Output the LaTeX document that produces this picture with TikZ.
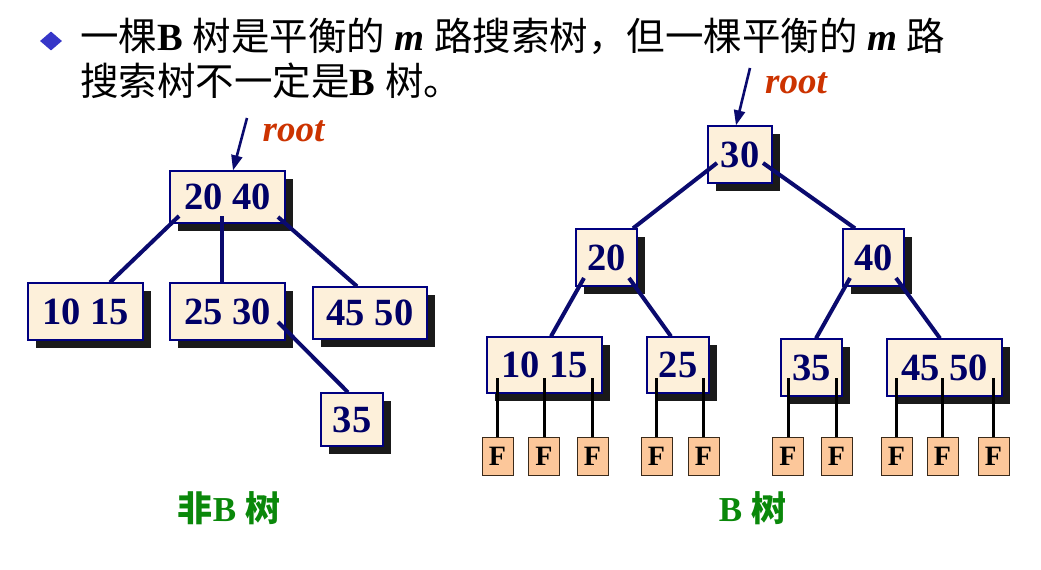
\documentclass[tikz,border=0pt]{standalone}
\usepackage{fontspec}
\setmainfont{Liberation Serif}
\newfontfamily\cjk{Noto Sans CJK SC}
\usetikzlibrary{shapes.geometric,shadows,calc,arrows.meta}
\definecolor{numblue}{HTML}{000066}
\definecolor{boxline}{HTML}{000080}
\definecolor{edgeblue}{HTML}{0A0A6E}
\definecolor{cream}{HTML}{FDF0DA}
\definecolor{shade}{HTML}{1A1A1A}
\definecolor{peach}{HTML}{FCC79A}
\definecolor{leafline}{HTML}{3A2A1A}
\definecolor{rootred}{HTML}{CC3300}
\definecolor{capgreen}{HTML}{0A880A}
\definecolor{bulletblue}{HTML}{3636C8}
\tikzset{
  keybox/.style={draw=boxline, line width=1.3pt, fill=cream, inner sep=0pt,
    text=numblue, font=\fontsize{38.5}{38}\selectfont\bfseries,
    general shadow={fill=shade, shadow xshift=8pt, shadow yshift=-8pt}},
  leafbox/.style={draw=leafline, line width=1pt, fill=peach, minimum width=31pt,
    minimum height=38pt, inner sep=0pt, font=\fontsize{28}{28}\selectfont\bfseries},
  edge/.style={draw=edgeblue, line width=4pt},
  leafedge/.style={draw=black, line width=3pt},
  rootarrow/.style={draw=edgeblue, line width=2.6pt, -{Triangle[length=15pt,width=11pt]}},
  rootlbl/.style={text=rootred, font=\fontsize{37}{37}\selectfont\bfseries\itshape, inner sep=0pt},
  caption/.style={text=capgreen, font=\fontsize{35}{35}\selectfont\bfseries, inner sep=0pt},
  titletext/.style={font=\fontsize{38.5}{40}\selectfont, inner sep=0pt, anchor=base west},
  bulletmark/.style={diamond, fill=bulletblue, minimum width=22pt, minimum height=19pt, inner sep=0pt}
}
\begin{document}
\begin{tikzpicture}[x=1pt,y=-1pt]
\useasboundingbox[fill=white] (0,0) rectangle (1041,570);

% title
\node[bulletmark] (bul) at (51,41) {};
\node[titletext] (t1) at (80,50.4) {{\cjk 一棵}\textbf{B} {\cjk 树是平衡的} \textbf{\textit{m}} {\cjk 路搜索树，但一棵平衡的} \textbf{\textit{m}} {\cjk 路}};
\node[titletext] (t2) at (80,95.5) {{\cjk 搜索树不一定是}\textbf{B} {\cjk 树。}};

% left tree (not a B-tree)
\node[keybox, minimum width=115pt, minimum height=52pt] (L2040) at (227.5,197) {20 40};
\node[keybox, minimum width=115pt, minimum height=57pt] (L1015) at (85.5,311.5) {10 15};
\node[keybox, minimum width=115pt, minimum height=57pt] (L2530) at (227.5,311.5) {25 30};
\node[keybox, minimum width=114pt, minimum height=52pt] (L4550) at (370,313) {45 50};
\node[keybox, minimum width=62pt, minimum height=53pt] (L35) at (352,419.5) {35};

\draw[edge] ([xshift=-48.5pt,yshift=-19pt]L2040.center) -- ([xshift=24.5pt]L1015.north);
\draw[edge] ([xshift=-5.5pt,yshift=-19pt]L2040.center) -- ([xshift=-5.5pt]L2530.north);
\draw[edge] ([xshift=50.5pt,yshift=-20pt]L2040.center) -- ([xshift=-13pt]L4550.north);
\draw[edge] ([xshift=50.5pt,yshift=-10.5pt]L2530.center) -- ([xshift=-4pt]L35.north);

\node[rootlbl] (rootL) at (293.5,131) {root};
\coordinate (aL) at (247,118);
\draw[rootarrow] (aL) -- ([xshift=5.5pt]L2040.north);

% right tree (B-tree)
\node[keybox, minimum width=64pt, minimum height=57pt] (R30) at (740,154.5) {30};
\node[keybox, minimum width=61pt, minimum height=57pt] (R20) at (606.5,257.5) {20};
\node[keybox, minimum width=61pt, minimum height=57pt] (R40) at (873.5,257.5) {40};
\node[keybox, minimum width=115pt, minimum height=56pt] (R1015) at (544.5,365) {10 15};
\node[keybox, minimum width=62pt, minimum height=56pt] (R25) at (678,365) {25};
\node[keybox, minimum width=61pt, minimum height=57pt] (R35) at (811.5,367.5) {35};
\node[keybox, minimum width=115pt, minimum height=57pt] (R4550) at (944.5,367.5) {45 50};

\foreach \n/\x in {f1/497.5, f2/544, f3/592.5, f4/656.5, f5/703.5,
                   f6/788, f7/836.5, f8/896.5, f9/942.5, f10/993.5}
  \node[leafbox] (\n) at (\x,456) {F};

\draw[edge] ([xshift=-23pt,yshift=-8.5pt]R30.center) -- ([xshift=26.5pt]R20.north);
\draw[edge] ([xshift=23pt,yshift=-8.5pt]R30.center) -- ([xshift=-18.5pt]R40.north);
\draw[edge] ([xshift=-22.5pt,yshift=-20.5pt]R20.center) -- ([xshift=6.5pt]R1015.north);
\draw[edge] ([xshift=22.5pt,yshift=-20.5pt]R20.center) -- ([xshift=-7pt]R25.north);
\draw[edge] ([xshift=-23.5pt,yshift=-20.5pt]R40.center) -- ([xshift=4.5pt]R35.north);
\draw[edge] ([xshift=22.5pt,yshift=-20.5pt]R40.center) -- ([xshift=-4.5pt]R4550.north);

\foreach \f/\p/\d in {f1/R1015/13, f2/R1015/13, f3/R1015/13, f4/R25/13, f5/R25/13,
                      f6/R35/10.5, f7/R35/10.5, f8/R4550/10.5, f9/R4550/10.5, f10/R4550/10.5}
  \draw[leafedge] (\f.north) -- ($(\f.north |- \p.center)+(0,\d)$);

\node[rootlbl] (rootR) at (796,83) {root};
\coordinate (aR) at (750,68);
\draw[rootarrow] (aR) -- ([xshift=-4pt]R30.north);

% captions
\node[caption] (capL) at (229,508) {{\cjk\bfseries 非}B {\cjk\bfseries 树}};
\node[caption] (capR) at (752.5,508) {B {\cjk\bfseries 树}};
\end{tikzpicture}
\end{document}
